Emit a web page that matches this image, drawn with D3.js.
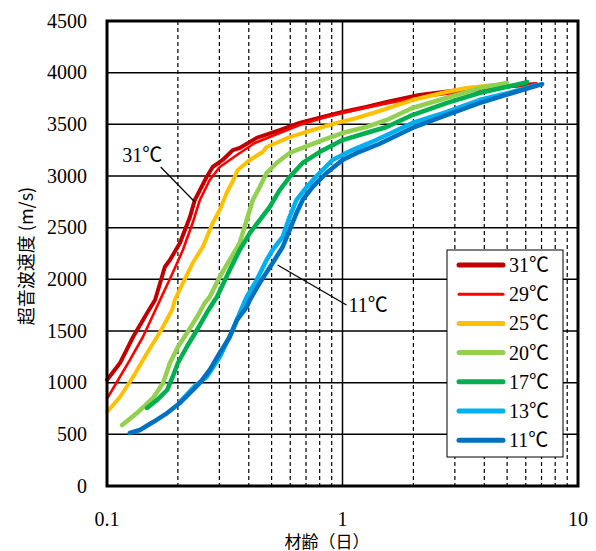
<!DOCTYPE html>
<html>
<head>
<meta charset="utf-8">
<script src="https://cdn.jsdelivr.net/npm/d3@7"></script>
<style>
  body { margin: 0; background: #fff; }
  text { font-family: "Liberation Serif", "Noto Sans CJK JP", serif; fill: #000; }
  .cjk { font-family: "Noto Sans CJK JP", sans-serif; }
</style>
</head>
<body>
<svg width="596" height="551"></svg>
<script>
// series: [age (days), ultrasonic velocity (m/s)]
var t31 = [[0.1,1026],[0.1135,1190],[0.129,1442],[0.148,1674],[0.160,1800],[0.176,2119],[0.185,2187],
  [0.204,2352],[0.225,2603],[0.236,2768],[0.248,2864],[0.265,2990],[0.281,3087],[0.310,3155],[0.342,3251],
  [0.366,3271],[0.432,3368],[0.541,3445],[0.657,3513],[0.823,3571],[1.0,3619],[1.26,3668],[1.54,3716],
  [2.12,3784],[3.13,3832],[4.63,3861],[6.64,3890]];
var t29 = [[0.101,861],[0.125,1219],[0.142,1442],[0.168,1800],[0.190,2061],[0.210,2284],[0.231,2545],
  [0.248,2768],[0.273,2961],[0.301,3087],[0.356,3203],[0.424,3319],[0.541,3416],[0.657,3494],[0.823,3561],
  [1.0,3610],[1.30,3668],[1.74,3726],[2.34,3774],[3.45,3822],[5.10,3861],[6.38,3880]];
var t25 = [[0.1,716],[0.1135,861],[0.129,1055],[0.148,1287],[0.168,1490],[0.189,1703],[0.194,1800],
  [0.210,1964],[0.231,2158],[0.255,2313],[0.281,2545],[0.301,2671],[0.322,2835],[0.339,2932],[0.359,3058],
  [0.404,3155],[0.458,3232],[0.476,3281],[0.596,3377],[0.746,3445],[0.943,3513],[1.15,3561],[1.48,3639],
  [1.98,3735],[2.76,3813],[3.35,3851],[4.41,3880]];
var t20 = [[0.116,590],[0.134,706],[0.157,852],[0.173,997],[0.185,1190],[0.2,1345],[0.220,1490],
  [0.241,1635],[0.260,1771],[0.273,1829],[0.301,2023],[0.332,2187],[0.366,2352],[0.392,2574],[0.416,2768],
  [0.445,2893],[0.476,3029],[0.525,3126],[0.596,3223],[0.638,3251],[0.823,3348],[1.0,3416],[1.26,3474],
  [1.54,3542],[1.98,3658],[2.76,3755],[3.81,3851],[5.0,3900]];
var t17 = [[0.148,755],[0.163,832],[0.180,929],[0.190,1055],[0.2,1190],[0.218,1345],[0.241,1510],
  [0.265,1674],[0.287,1800],[0.293,1829],[0.332,2090],[0.366,2284],[0.404,2448],[0.445,2574],[0.491,2700],
  [0.541,2864],[0.596,2990],[0.677,3126],[0.799,3232],[1.0,3348],[1.26,3416],[1.54,3474],[1.98,3590],
  [2.76,3706],[3.81,3803],[4.95,3861],[6.08,3909]];
var t13 = [[0.204,813],[0.236,968],[0.265,1055],[0.301,1248],[0.342,1510],[0.366,1674],[0.392,1829],
  [0.432,1993],[0.476,2187],[0.505,2284],[0.557,2410],[0.596,2603],[0.638,2768],[0.704,2893],[0.799,3029],
  [0.907,3155],[1.10,3251],[1.39,3348],[1.98,3513],[2.76,3619],[3.81,3735],[5.25,3813],[6.64,3880]];
var t11 = [[0.125,513],[0.138,542],[0.157,619],[0.180,706],[0.204,803],[0.225,900],[0.248,997],
  [0.273,1123],[0.301,1287],[0.332,1442],[0.356,1606],[0.392,1732],[0.404,1800],[0.445,1964],[0.505,2158],
  [0.557,2313],[0.596,2477],[0.638,2642],[0.677,2768],[0.746,2893],[0.855,3029],[1.0,3155],[1.15,3223],
  [1.43,3310],[1.98,3465],[2.76,3590],[3.81,3706],[5.25,3803],[7.04,3890]];

var seriesNames = ["31℃","29℃","25℃","20℃","17℃","13℃","11℃"];
var seriesData = [t31, t29, t25, t20, t17, t13, t11];
var colors = ["#C00000","#FF0000","#FFC000","#92D050","#00B050","#00B0F0","#0070C0"];
var widths = [4, 2.6, 4, 4.5, 4.5, 4.5, 4.5];

var yTicks = [0,500,1000,1500,2000,2500,3000,3500,4000,4500];
var xTicks = [0.1, 1, 10];
var xMinor = [0.2,0.3,0.4,0.5,0.6,0.7,0.8,0.9,2,3,4,5,6,7,8,9];

var pL = 107, pT = 21, pR = 578, pB = 486;
var svg = d3.select("svg");
var x = d3.scaleLog().domain([0.1, 10]).range([pL, pR]);
var y = d3.scaleLinear().domain([0, 4500]).range([pB, pT]);

// grid
var grid = svg.append("g");
grid.selectAll(".hg").data(yTicks).enter().append("line")
  .attr("x1", pL).attr("x2", pR)
  .attr("y1", d => y(d)).attr("y2", d => y(d))
  .attr("stroke", "#000").attr("stroke-width", 1.5);
grid.selectAll(".vm").data(xMinor).enter().append("line")
  .attr("x1", d => x(d)).attr("x2", d => x(d))
  .attr("y1", pT).attr("y2", pB)
  .attr("stroke", "#000").attr("stroke-width", 1.2).attr("stroke-dasharray", "4,3");
grid.append("line").attr("x1", x(1)).attr("x2", x(1)).attr("y1", pT).attr("y2", pB)
  .attr("stroke", "#000").attr("stroke-width", 1.5);

// curves
var line = d3.line().x(d => x(d[0])).y(d => y(d[1]));
svg.append("g").selectAll("path").data(seriesData).enter().append("path")
  .attr("d", line)
  .attr("fill", "none")
  .attr("stroke", (d, i) => colors[i])
  .attr("stroke-width", (d, i) => widths[i])
  .attr("stroke-linejoin", "round")
  .attr("stroke-linecap", "round");

// frame
svg.append("rect").attr("x", pL).attr("y", pT)
  .attr("width", pR - pL).attr("height", pB - pT)
  .attr("fill", "none").attr("stroke", "#000").attr("stroke-width", 3);

// axes labels
svg.append("g").selectAll("text").data(yTicks).enter().append("text")
  .attr("x", 87).attr("y", d => y(d) + 6.5)
  .attr("text-anchor", "end").attr("font-size", 20)
  .text(d => d);
svg.append("g").selectAll("text").data(xTicks).enter().append("text")
  .attr("x", d => x(d)).attr("y", 526)
  .attr("text-anchor", "middle").attr("font-size", 20)
  .text(d => d);

svg.append("text").attr("class", "cjk")
  .attr("transform", "translate(33,256) rotate(-90)")
  .attr("text-anchor", "middle").attr("font-size", 18)
  .text("超音波速度 (m/s)");
svg.append("text").attr("class", "cjk")
  .attr("x", 327).attr("y", 548)
  .attr("text-anchor", "middle").attr("font-size", 17)
  .text("材齢（日）");

// annotations
svg.append("line").attr("x1", x(0.169)).attr("y1", y(3087)).attr("x2", x(0.236)).attr("y2", y(2748))
  .attr("stroke", "#000").attr("stroke-width", 1.2);
svg.append("text").attr("x", x(0.116)).attr("y", y(3135)).attr("font-size", 20).text("31℃");
svg.append("line").attr("x1", x(0.530)).attr("y1", y(2139)).attr("x2", x(1.04)).attr("y2", y(1752))
  .attr("stroke", "#000").attr("stroke-width", 1.2);
svg.append("text").attr("x", x(1.06)).attr("y", y(1684)).attr("font-size", 20).text("11℃");

// legend
var lg = svg.append("g").attr("transform", "translate(447,250)");
lg.append("rect").attr("width", 116).attr("height", 207)
  .attr("fill", "#fff").attr("stroke", "#000").attr("stroke-width", 1);
var items = lg.selectAll(".it").data(seriesNames).enter().append("g")
  .attr("transform", (d, i) => "translate(0," + (15 + i * 29.2) + ")");
items.append("line").attr("x1", 12).attr("x2", 56).attr("y1", 0).attr("y2", 0)
  .attr("stroke", (d, i) => colors[i])
  .attr("stroke-width", (d, i) => i === 1 ? 3 : 5)
  .attr("stroke-linecap", "round");
items.append("text").attr("x", 62).attr("y", 7).attr("font-size", 20).text(d => d);
</script>
</body>
</html>
